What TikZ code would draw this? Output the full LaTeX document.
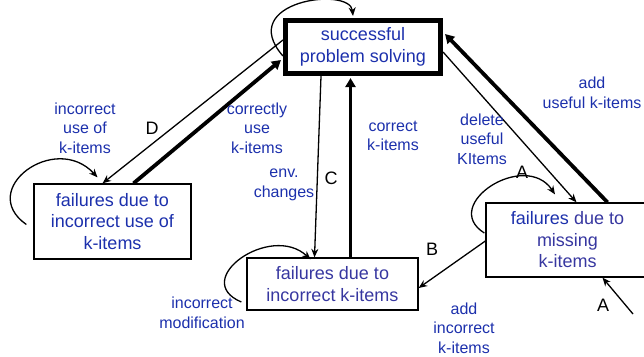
\documentclass[tikz,border=0pt]{standalone}
\usepackage{fontspec}
\setmainfont{Liberation Sans}
\usetikzlibrary{arrows.meta,calc}
\definecolor{lblue}{RGB}{28,48,172}
\definecolor{bpurple}{RGB}{55,55,160}
\begin{document}
\begin{tikzpicture}[x=1pt,y=-1pt,
  box/.style={draw,line width=1.3pt,align=center,inner sep=0pt,font=\fontsize{18}{21.5}\selectfont},
  lbl/.style={align=center,text=lblue,font=\fontsize{16}{19.5}\selectfont,inner sep=0pt},
  letter/.style={font=\fontsize{18}{20}\selectfont,inner sep=0pt},
  thinarr/.style={line width=1.3pt,-{Stealth[length=8.5pt,width=7pt]}},
  thickarr/.style={line width=3.8pt,-{Triangle[length=9pt,width=10pt]}}]
\useasboundingbox (0,0) rectangle (644,356);
% boxes
\node[box,line width=4.6pt,minimum width=155.5pt,minimum height=53.5pt,text=lblue] (top) at (363,47) {successful\\problem solving};
\node[box,minimum width=157pt,minimum height=75pt,text=lblue] (left) at (112.5,221.5) {failures due to\\incorrect use of\\k-items};
\node[box,minimum width=171pt,minimum height=52pt,text=bpurple] (mid) at (332.5,284) {failures due to\\incorrect k-items};
\node[box,minimum width=163pt,minimum height=74pt,text=bpurple] (right) at (567.5,240) {\textcolor{lblue}{failures} due to\\missing\\k-items};
% connectors
\draw[thinarr] ($(top.west)+(0,9)$) .. controls +(-48,-55) and +(-3,-30) .. ($(top.north)+(-10,-2)$);
\draw[thinarr] ($(top.west)+(0,-7)$) -- ($(left.north)+(-10,0)$);
\draw[thickarr] ($(left.north)+(21,0)$) -- ($(top.west)+(-2,13)$);
\draw[thinarr] ($(left.west)+(-7,3)$) .. controls +(-50,-35) and +(-42.5,-46) .. ($(left.north)+(-15,-6)$);
\draw[thinarr] ($(top.south)+(-42,0)$) -- ($(mid.north)+(-18,0)$);
\draw[thickarr] ($(mid.north)+(18,0)$) -- ($(top.south)+(-12.5,2)$);
\draw[thinarr] ($(top.east)+(0,5)$) -- ($(right.north)+(9,0)$);
\draw[thickarr] ($(right.north)+(40,0)$) -- ($(top.east)+(2,-13)$);
\draw[thinarr] ($(right.west)+(-1,-7)$) .. controls +(-45,-28) and +(-30,-45) .. ($(right.north)+(-12.5,-8)$);
\draw[thinarr] ($(right.west)+(0,1)$) -- ($(mid.east)+(0,4)$);
\draw[thinarr] ($(mid.west)+(-5,18)$) .. controls +(-52,-22) and +(-40,-37) .. ($(mid.north)+(-22,2)$);
\coordinate (afree) at (633,314);
\draw[thinarr] (afree) -- ($(right.south)+(35,0)$);
% labels
\node[lbl] (l1) at (85,128) {incorrect\\use of\\k-items};
\node[letter] (lD) at (152,128) {D};
\node[lbl] (l2) at (257,128) {correctly\\use\\k-items};
\node[lbl] (l3) at (284,185) {env.\\changes};
\node[letter] (lC) at (331,178) {C};
\node[lbl] (l4) at (393,136) {correct\\k-items};
\node[lbl] (l5) at (482,139) {delete\\useful\\KItems};
\node[lbl] (l6) at (592,93) {add\\useful k-items};
\node[letter] (lA1) at (522,172) {A};
\node[letter] (lB) at (432,249) {B};
\node[lbl] (l7) at (202,313) {incorrect\\modification};
\node[lbl] (l8) at (464,328) {add\\incorrect\\k-items};
\node[letter] (lA2) at (603,305) {A};
\end{tikzpicture}
\end{document}
